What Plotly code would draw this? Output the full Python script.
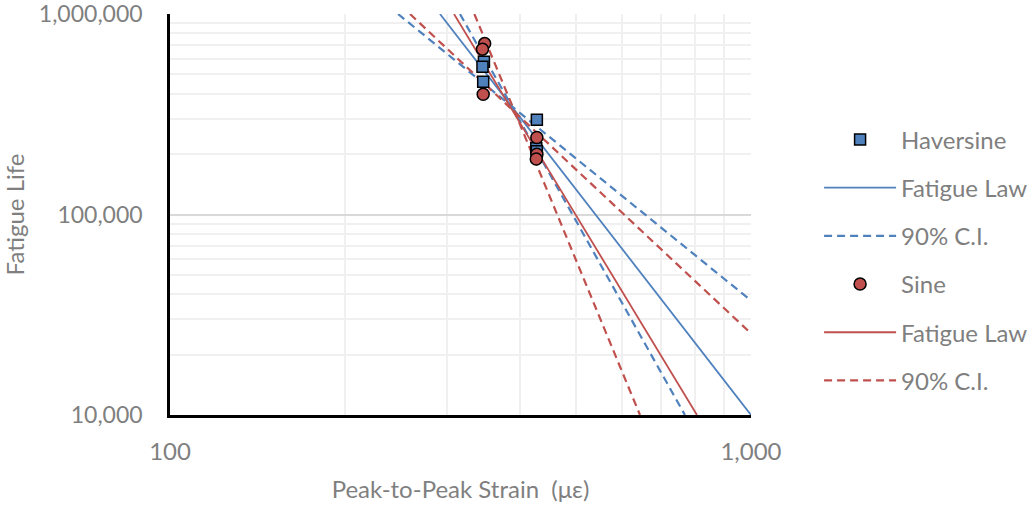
import plotly.graph_objects as go

# ---- data ----
strain_hav = [347, 345, 346, 428, 427, 428]
life_hav = [578000, 546000, 460000, 297000, 214000, 207000]
strain_sine = [348, 345, 346, 428, 428, 427]
life_sine = [712000, 668000, 398000, 242000, 200000, 189000]

# fatigue-law lines and 90% confidence bounds (end points)
hav_fit_x = [291.5, 1000]
hav_fit_y = [1e6, 1e4]
hav_ci_x = [246.9, 1000, None, 315.6, 769.7]
hav_ci_y = [1e6, 37220, None, 1e6, 1e4]
sine_fit_x = [308.2, 807.3]
sine_fit_y = [1e6, 1e4]
sine_ci_x = [258.9, 1000, None, 334.1, 644.1]
sine_ci_y = [1e6, 25520, None, 1e6, 1e4]

x_ticks = [100, 1000]
x_ticktext = ["100", "1,000"]
y_ticks = [1e4, 1e5, 1e6]
y_ticktext = ["10,000", "100,000", "1,000,000"]
x_minor = [200, 300, 400, 500, 600, 700, 800, 900]
y_minor = [2e4, 3e4, 4e4, 5e4, 6e4, 7e4, 8e4, 9e4,
           2e5, 3e5, 4e5, 5e5, 6e5, 7e5, 8e5, 9e5]

BLUE = "#4F81BD"
RED = "#C0504D"
GRAY = "#7F7F7F"
FONT = "Lato"
FS = 24
DASH = "8px,5px"

fig = go.Figure()

fig.add_trace(go.Scatter(x=hav_fit_x, y=hav_fit_y, mode="lines", name="Fatigue Law",
                         line=dict(color=BLUE, width=1.8), legendrank=2, legendgroup="b"))
fig.add_trace(go.Scatter(x=hav_ci_x, y=hav_ci_y, mode="lines", name="90% C.I.",
                         line=dict(color=BLUE, width=2.2, dash=DASH), legendrank=3, legendgroup="c"))
fig.add_trace(go.Scatter(x=sine_fit_x, y=sine_fit_y, mode="lines", name="Fatigue Law",
                         line=dict(color=RED, width=1.8), legendrank=5, legendgroup="e"))
fig.add_trace(go.Scatter(x=sine_ci_x, y=sine_ci_y, mode="lines", name="90% C.I.",
                         line=dict(color=RED, width=2.2, dash=DASH), legendrank=6, legendgroup="f"))
fig.add_trace(go.Scatter(x=strain_hav, y=life_hav, mode="markers", name="Haversine",
                         marker=dict(symbol="square", size=11, color=BLUE,
                                     line=dict(color="black", width=1.5)),
                         legendrank=1, legendgroup="a", cliponaxis=False))
fig.add_trace(go.Scatter(x=strain_sine, y=life_sine, mode="markers", name="Sine",
                         marker=dict(symbol="circle", size=12, color=RED,
                                     line=dict(color="black", width=1.5)),
                         legendrank=4, legendgroup="d", cliponaxis=False))

fig.update_layout(
    width=1029, height=508,
    margin=dict(l=170, r=278, t=14, b=93, autoexpand=False),
    paper_bgcolor="white", plot_bgcolor="white",
    font=dict(family=FONT, size=FS, color=GRAY),
    legend=dict(xref="container", yref="container",
                x=0.796, xanchor="left", y=0.769, yanchor="top",
                traceorder="grouped", tracegroupgap=14, itemwidth=72,
                maxheight=480,
                font=dict(family=FONT, size=FS, color=GRAY)),
    showlegend=True,
)
fig.update_xaxes(
    type="log", range=[1.99995, 3.00005], automargin=False,
    tickmode="array", tickvals=x_ticks, ticktext=x_ticktext,
    showgrid=True, gridcolor="#D9D9D9", gridwidth=2,
    minor=dict(tickmode="array", tickvals=x_minor, showgrid=True,
               gridcolor="#F0F0F0", gridwidth=2, ticks=""),
    showline=True, linecolor="black", linewidth=2.5,
    ticks="", zeroline=False, ticklabelstandoff=13,
    title=dict(text="Peak-to-Peak Strain  (\u03bc\u03b5)", standoff=18,
               font=dict(family=FONT, size=FS, color=GRAY)),
)
fig.update_yaxes(
    type="log", range=[3.9999, 6.0001], automargin=False,
    tickmode="array", tickvals=y_ticks, ticktext=y_ticktext,
    tickfont=dict(size=23),
    showgrid=True, gridcolor="#D9D9D9", gridwidth=2,
    minor=dict(tickmode="array", tickvals=y_minor, showgrid=True,
               gridcolor="#F0F0F0", gridwidth=2, ticks=""),
    showline=True, linecolor="black", linewidth=2.5,
    ticks="", zeroline=False, ticklabelstandoff=20,
    ticklabeloverflow="allow",
    title=dict(text="Fatigue Life", standoff=14,
               font=dict(family=FONT, size=FS, color=GRAY)),
)

fig.write_html("out.html")
